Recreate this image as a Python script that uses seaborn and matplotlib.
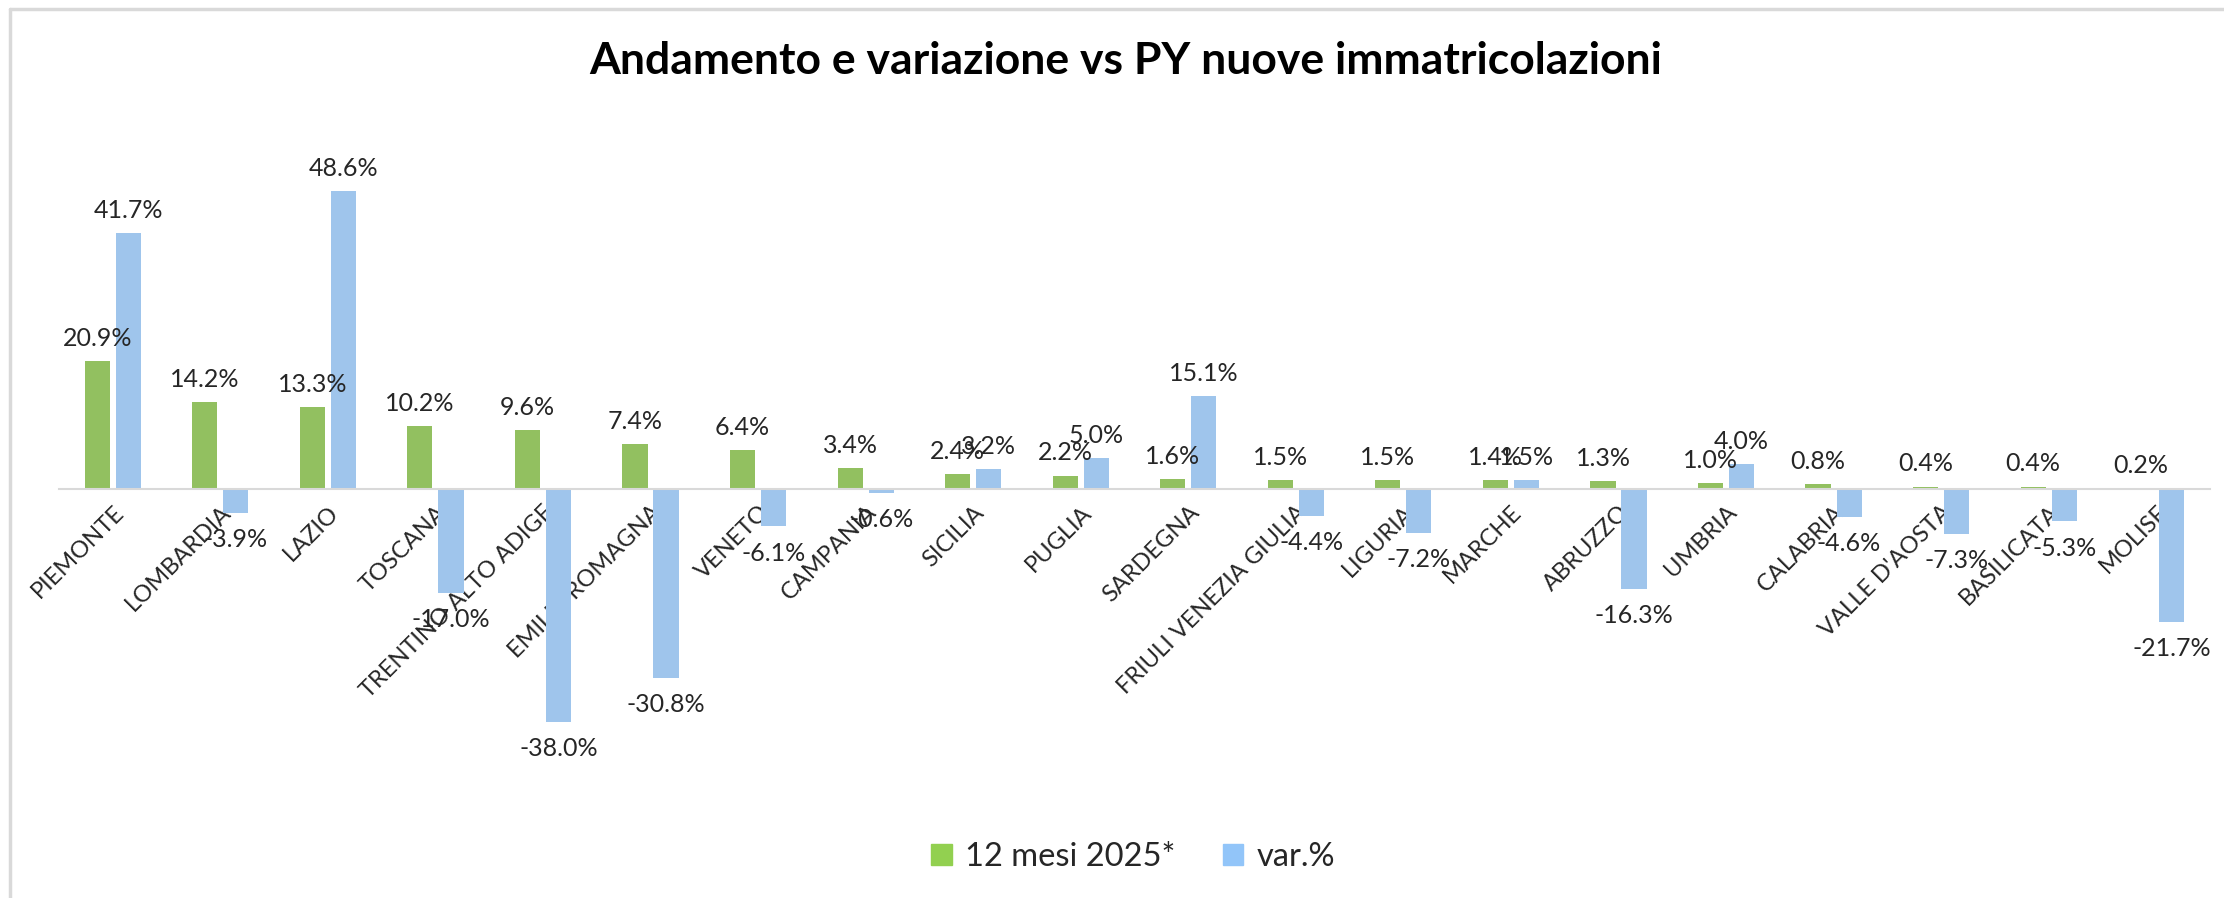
import numpy as np
import pandas as pd
import matplotlib
matplotlib.use("Agg")
import matplotlib.pyplot as plt
import matplotlib.patches as mpatches
from matplotlib.lines import Line2D
import seaborn as sns

# dati (valori in %)
regioni = ["PIEMONTE", "LOMBARDIA", "LAZIO", "TOSCANA", "TRENTINO ALTO ADIGE",
           "EMILIA ROMAGNA", "VENETO", "CAMPANIA", "SICILIA", "PUGLIA",
           "SARDEGNA", "FRIULI VENEZIA GIULIA", "LIGURIA", "MARCHE", "ABRUZZO",
           "UMBRIA", "CALABRIA", "VALLE D'AOSTA", "BASILICATA", "MOLISE"]
mesi_2025 = [20.9, 14.2, 13.3, 10.2, 9.6, 7.4, 6.4, 3.4, 2.4, 2.2,
             1.6, 1.5, 1.5, 1.4, 1.3, 1.0, 0.8, 0.4, 0.4, 0.2]
var_pct = [41.7, -3.9, 48.6, -17.0, -38.0, -30.8, -6.1, -0.6, 3.2, 5.0,
           15.1, -4.4, -7.2, 1.5, -16.3, 4.0, -4.6, -7.3, -5.3, -21.7]
serie = ["12 mesi 2025*", "var.%"]
colori = ["#92D050", "#92C5F9"]

df = pd.DataFrame({"regione": regioni, serie[0]: mesi_2025, serie[1]: var_pct})
long = df.melt(id_vars="regione", var_name="serie", value_name="valore")

sns.set_style("white")
plt.rcParams["font.family"] = ["Lato", "DejaVu Sans"]

W, H = 2224, 898
fig = plt.figure(figsize=(W / 100, H / 100), dpi=100)

# area del grafico: zero a y=489px, 6.13 px per punto percentuale
ymin, ymax = -50, 55
ppu = 6.13
y0 = 489
top_px = y0 - ymax * ppu
bot_px = y0 - ymin * ppu
ax = fig.add_axes([59 / W, 1 - bot_px / H, (2210 - 59) / W, (bot_px - top_px) / H])

sns.barplot(data=long, x="regione", y="valore", hue="serie", palette=colori,
            width=0.577, gap=0.19, linewidth=0, ax=ax, legend=False)
ax.set_ylim(ymin, ymax)
ax.set_xlim(-0.5, len(regioni) - 0.5)

# etichette: sopra le barre positive, sotto quelle negative (un po' più distanti)
for cont in ax.containers:
    vals = cont.datavalues
    pos = [f"{v:.1f}%" if v >= 0 else "" for v in vals]
    neg = [f"{v:.1f}%" if v < 0 else "" for v in vals]
    ax.bar_label(cont, labels=pos, padding=8, fontsize=18, color="#262626")
    ax.bar_label(cont, labels=neg, padding=11, fontsize=18, color="#262626")

for s in ["top", "right", "left"]:
    ax.spines[s].set_visible(False)
ax.spines["bottom"].set_position(("data", 0))
ax.spines["bottom"].set_color("#D9D9D9")
ax.spines["bottom"].set_linewidth(1.5)
ax.set_yticks([])
ax.set_xlabel("")
ax.set_ylabel("")
ax.tick_params(axis="x", length=0, pad=9)
ax.set_xticks(range(len(regioni)))
ax.set_xticklabels(regioni, rotation=45, ha="right", rotation_mode="anchor",
                   fontsize=17, color="#262626")

fig.text(1126 / W, 1 - 61 / H, "Andamento e variazione vs PY nuove immatricolazioni",
         ha="center", va="center", fontsize=32, fontweight="bold", color="black")

handles = [mpatches.Patch(color=c, label=s) for c, s in zip(colori, serie)]
fig.legend(handles=handles, loc="center", bbox_to_anchor=(1133 / W, 1 - 857 / H),
           ncol=2, frameon=False, fontsize=23.5, handlelength=0.64, handleheight=0.64,
           handletextpad=0.4, columnspacing=1.45, labelcolor="#262626")

# cornice grigia (bordo superiore e sinistro)
fig.add_artist(Line2D([10 / W, 10 / W], [0, 1 - 9 / H], color="#D9D9D9", lw=2.5))
fig.add_artist(Line2D([10 / W, 1], [1 - 9 / H, 1 - 9 / H], color="#D9D9D9", lw=2.5))

fig.savefig("out.png", dpi=100, facecolor="white")
